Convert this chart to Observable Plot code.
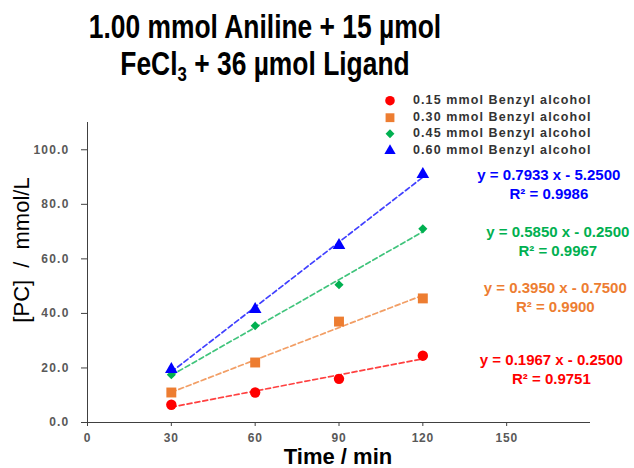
<!DOCTYPE html>
<html>
<head>
<meta charset="utf-8">
<script src="https://cdn.jsdelivr.net/npm/d3@7"></script>
<script src="https://cdn.jsdelivr.net/npm/@observablehq/plot@0.6"></script>
<style>
  body { margin: 0; background: #fff; font-family: "Liberation Sans", Arial, sans-serif; }
  #wrap { position: relative; width: 634px; height: 468px; overflow: hidden; }
  #title {
    position: absolute; left: 0; top: 0; width: 530px; padding-top: 8px;
    text-align: center; font-weight: bold; font-size: 33px; line-height: 37px; color: #000;
    transform: scaleX(0.8); transform-origin: 265px 0;
  }
  #title sub { font-size: 21px; line-height: 0; vertical-align: -0.3em; }
  #chart { position: absolute; left: 0; top: 90px; }
  #ylabel { position: absolute; left: 22px; top: 250px; width: 0; height: 0; }
  #ylabel span {
    position: absolute; white-space: nowrap; font-size: 22px; color: #000;
    word-spacing: 6px; transform: translate(-50%, -50%) rotate(-90deg);
  }
  #xlabel {
    position: absolute; left: 238px; width: 200px; top: 446px; text-align: center;
    font-weight: bold; font-size: 22px; line-height: 22px; color: #000;
  }
  #legend { position: absolute; left: 383px; top: 92px; }
  #legend .row { position: absolute; left: 0; height: 17px; white-space: nowrap; }
  #legend svg { position: absolute; left: 0; top: 0; }
  #legend span {
    position: absolute; left: 30px; top: 1px; font-size: 12.5px; font-weight: bold;
    letter-spacing: 1.1px; color: #333; line-height: 15px;
  }
  g[aria-label="x-axis tick label"] text { font-weight: bold; fill: #595959; letter-spacing: 0.8px; }
  g[aria-label="y-axis tick label"] text { font-weight: bold; fill: #595959; letter-spacing: 1.2px; }
  g[aria-label="fit equations"] text { letter-spacing: 0.6px; }
</style>
</head>
<body>
<div id="wrap">
  <div id="title">1.00 mmol Aniline + 15 µmol<br>FeCl<sub>3</sub> + 36 µmol Ligand</div>
  <div id="chart"></div>
  <div id="ylabel"><span>[PC] / mmol/L</span></div>
  <div id="xlabel">Time / min</div>
  <div id="legend"></div>
</div>
<script>
// Reaction time (min) at which each sample was taken
const times = [30, 60, 90, 120];

// Series names (benzyl alcohol loading)
const series = [
  "0.15 mmol Benzyl alcohol",
  "0.30 mmol Benzyl alcohol",
  "0.45 mmol Benzyl alcohol",
  "0.60 mmol Benzyl alcohol"
];

// Product concentration [PC] in mmol/L for each series
const pc015 = [6.5, 11.0, 16.0, 24.5];
const pc030 = [11.0, 22.0, 37.0, 45.5];
const pc045 = [17.5, 35.5, 50.5, 71.0];
const pc060 = [19.5, 41.5, 65.0, 91.0];

// Linear fits: y = slope x + intercept, with R²
const slopes = [0.1967, 0.3950, 0.5850, 0.7933];
const intercepts = [-0.2500, -0.7500, -0.2500, -5.2500];
const rSquared = ["0.9751", "0.9900", "0.9967", "0.9986"];

// Axis ticks
const xTicks = [0, 30, 60, 90, 120, 150];
const yTicks = [0, 20, 40, 60, 80, 100];

// Series styling
const colors = ["#FF0000", "#ED7D31", "#00B050", "#0000FF"];
const symbols = ["circle", "square", "diamond2", "triangle"];
const dotRadius = [5.2, 5.6, 4.1, 4.7];

// Where each fit equation sits (in axis units)
const eqPos = [
  {x: 166.0, y: 19.9},
  {x: 167.4, y: 46.1},
  {x: 168.3, y: 66.7},
  {x: 165.1, y: 87.5}
];

const values = [pc015, pc030, pc045, pc060];
const tExtent = d3.extent(times);

const seriesMarks = series.flatMap((name, s) => {
  const pts = times.map((t, i) => ({time: t, pc: values[s][i]}));
  const fit = tExtent.map(t => ({time: t, pc: slopes[s] * t + intercepts[s]}));
  return [
    Plot.line(fit, {x: "time", y: "pc", stroke: colors[s], strokeWidth: 1.7,
      strokeOpacity: 0.75, strokeDasharray: "5,3"}),
    Plot.dot(pts, {x: "time", y: "pc", fill: colors[s], stroke: "none",
      symbol: () => symbols[s], r: dotRadius[s]})
  ];
});

const eqs = series.map((name, s) => ({
  x: eqPos[s].x,
  y: eqPos[s].y,
  color: colors[s],
  label: `y = ${slopes[s].toFixed(4)} x ${intercepts[s] < 0 ? "-" : "+"} ${Math.abs(intercepts[s]).toFixed(4)}\nR² = ${rSquared[s]}`
}));

const chart = Plot.plot({
  width: 634,
  height: 378,
  marginTop: 32,
  marginBottom: 46,
  marginLeft: 87,
  marginRight: 44,
  style: {fontFamily: "'Liberation Sans', Arial, sans-serif", background: "#fff", overflow: "visible"},
  x: {domain: [0, 180]},
  y: {domain: [0, 110]},
  symbol: {type: "identity"},
  marks: [
    Plot.axisX({ticks: xTicks, tickSize: 4, tickPadding: 7, fontSize: 12, label: null, stroke: "#404040"}),
    Plot.axisY({ticks: yTicks, tickSize: 6, tickPadding: 12, fontSize: 12, label: null,
      stroke: "#404040", tickFormat: d3.format(".1f")}),
    Plot.ruleX([0], {y1: 0, y2: 110, stroke: "#404040"}),
    Plot.ruleY([0], {x1: 0, x2: 180, stroke: "#404040"}),
    ...seriesMarks,
    Plot.text(eqs, {x: "x", y: "y", text: "label", fill: "color", fontSize: 15,
      fontWeight: "bold", lineHeight: 1.25, textAnchor: "middle", ariaLabel: "fit equations"})
  ]
});
document.getElementById("chart").appendChild(chart);

// Legend: one row per series, symbol then name
const legend = d3.select("#legend");
const legendSize = [72, 78, 50, 55];
series.forEach((name, s) => {
  const row = legend.append("div").attr("class", "row").style("top", `${s * 16.7}px`);
  const svg = row.append("svg").attr("width", 16).attr("height", 17);
  const symType = {circle: d3.symbolCircle, square: d3.symbolSquare,
    diamond2: d3.symbolDiamond2, triangle: d3.symbolTriangle}[symbols[s]];
  svg.append("path")
    .attr("transform", "translate(7,8.7)")
    .attr("d", d3.symbol(symType, legendSize[s])())
    .attr("fill", colors[s]);
  row.append("span").text(name);
});
</script>
</body>
</html>
